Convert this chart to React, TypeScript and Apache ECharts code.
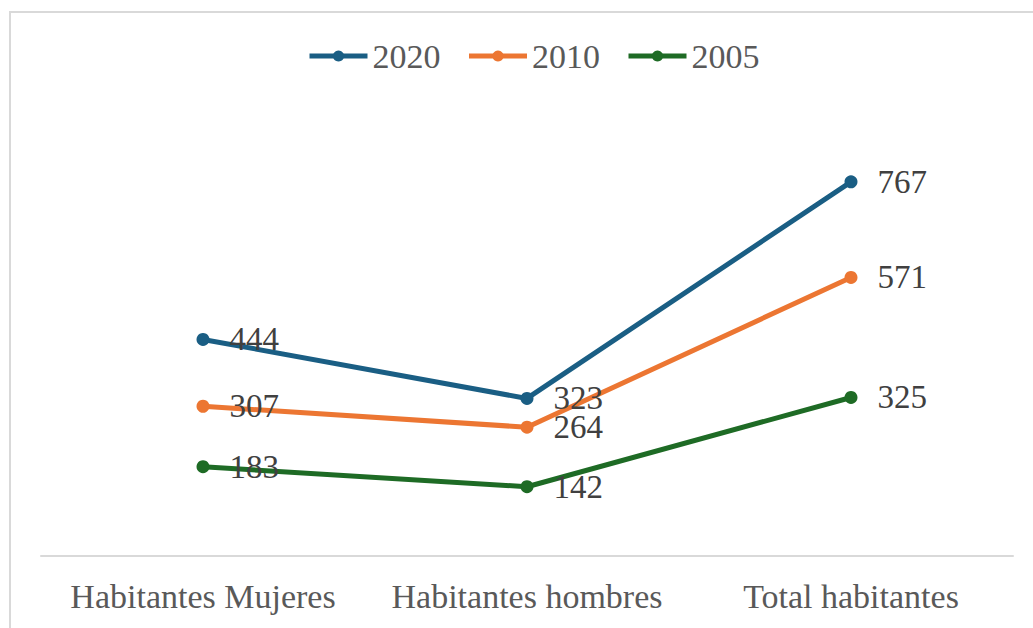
import React, { useEffect, useRef } from "react";
import * as echarts from "echarts";

const categories = ["Habitantes Mujeres", "Habitantes hombres", "Total habitantes"];
const seriesNames = ["2020", "2010", "2005"];
const values2020 = [444, 323, 767];
const values2010 = [307, 264, 571];
const values2005 = [183, 142, 325];
const colors = ["#1A5E84", "#EC7632", "#1E6B25"];

export default function App() {
  const ref = useRef<HTMLDivElement>(null);
  useEffect(() => {
    const chart = echarts.init(ref.current!, null, { renderer: "svg" });
    const font = "'Times New Roman', 'Liberation Serif', 'DejaVu Serif', serif";
    const data = [values2020, values2010, values2005];
    chart.setOption({
      animation: false,
      textStyle: { fontFamily: font },
      graphic: [
        {
          type: "rect",
          shape: { x: 10, y: 12, width: 1100, height: 700 },
          style: { fill: "none", stroke: "#D9D9D9", lineWidth: 2 },
          silent: true,
        },
      ],
      legend: {
        top: 34,
        left: 302,
        itemWidth: 58,
        itemHeight: 14,
        itemGap: 26,
        lineStyle: { width: 5 },
        textStyle: { fontFamily: font, fontSize: 34, color: "#595959" },
        data: seriesNames,
      },
      grid: { left: 41, right: 20, top: 117, bottom: 72, containLabel: false },
      xAxis: {
        type: "category",
        data: categories,
        boundaryGap: true,
        axisLine: { lineStyle: { color: "#D9D9D9", width: 2 } },
        axisTick: { show: false },
        axisLabel: { interval: 0, fontFamily: font, fontSize: 34, color: "#595959", margin: 23 },
      },
      yAxis: {
        type: "value",
        min: 0,
        max: 900,
        show: false,
        splitLine: { show: false },
      },
      series: seriesNames.map((name, i) => ({
        name,
        type: "line",
        data: data[i],
        symbol: "circle",
        symbolSize: 13,
        lineStyle: { width: 5, color: colors[i] },
        itemStyle: { color: colors[i] },
        label: {
          show: true,
          position: "right",
          distance: 20,
          fontFamily: font,
          fontSize: 33,
          color: "#404040",
        },
      })),
    });
    return () => chart.dispose();
  }, []);
  return (
    <div
      ref={ref}
      style={{ position: "absolute", left: 0, top: 0, width: 1033, height: 628, background: "#fff" }}
    />
  );
}
